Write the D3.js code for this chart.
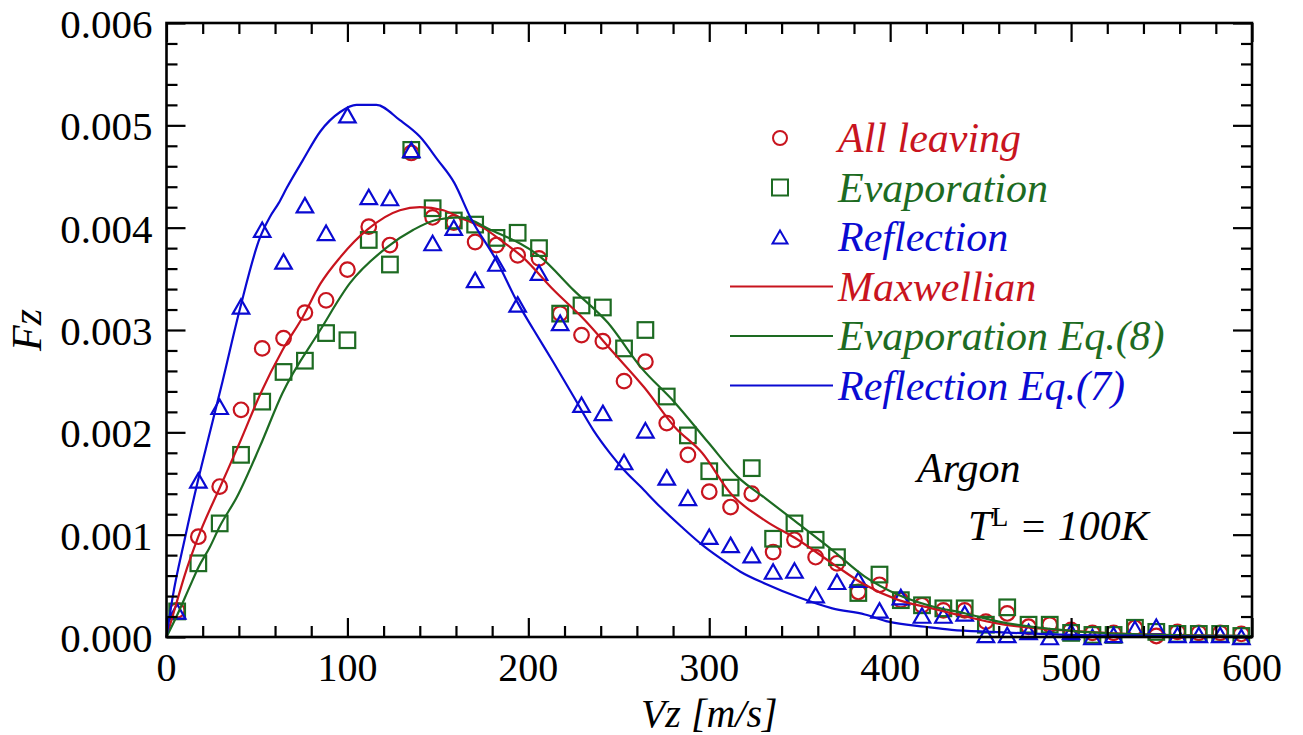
<!DOCTYPE html>
<html>
<head>
<meta charset="utf-8">
<script src="https://cdn.jsdelivr.net/npm/d3@7"></script>
</head>
<body style="margin:0">
<svg id="chart" width="1303" height="735"></svg>
<script>
// ---- Data -----------------------------------------------------------------
// sample velocities (bin centres) for the three marker series
var vz = [5.9, 17.6, 29.4, 41.2, 52.9, 64.7, 76.5, 88.2, 100, 111.8, 123.5, 135.3,
  147.1, 158.8, 170.6, 182.4, 194.1, 205.9, 217.6, 229.4, 241.2, 252.9, 264.7,
  276.5, 288.2, 300, 311.8, 323.5, 335.3, 347.1, 358.8, 370.6, 382.4, 394.1,
  405.9, 417.6, 429.4, 441.2, 452.9, 464.7, 476.5, 488.2, 500, 511.8, 523.5,
  535.3, 547.1, 558.8, 570.6, 582.4, 594.1];

var allLeaving = [0.00026, 0.00098, 0.00147, 0.00222, 0.00282, 0.00292, 0.00317,
  0.00329, 0.00359, 0.00401, 0.00383, 0.00473, 0.0041, 0.00405, 0.00386, 0.00383,
  0.00373, 0.0037, 0.00316, 0.00295, 0.00289, 0.0025, 0.00269, 0.00209, 0.00178,
  0.00142, 0.00127, 0.0014, 0.00083, 0.00095, 0.00078, 0.00072, 0.00044, 0.00051,
  0.00036, 0.00031, 0.00026, 0.00026, 0.00015, 0.00023, 0.0001, 0.00012, 0.00007,
  0.00004, 0.00004, 0.00009, 0.00001, 0.00005, 0.00004, 0.00004, 0.00003];

var evaporation = [0.00025, 0.00072, 0.00111, 0.00178, 0.0023, 0.00259, 0.0027,
  0.00297, 0.0029, 0.00388, 0.00364, 0.00476, 0.00419, 0.00407, 0.00403, 0.0039,
  0.00395, 0.0038, 0.00316, 0.00324, 0.00322, 0.00282, 0.003, 0.00235, 0.00197,
  0.00162, 0.00146, 0.00165, 0.00096, 0.00111, 0.00095, 0.00078, 0.00043, 0.00061,
  0.00036, 0.00031, 0.00028, 0.00028, 0.00012, 0.00029, 0.00012, 0.00012, 0.00004,
  0.00002, 0.00002, 0.00009, 0.00005, 0.00003, 0.00003, 0.00003, 0.00001];

var reflection = [0.00025, 0.00153, 0.00225, 0.00323, 0.00398, 0.00367, 0.00422,
  0.00395, 0.0051, 0.0043, 0.00429, 0.00476, 0.00385, 0.004, 0.00349, 0.00365,
  0.00325, 0.00356, 0.00307, 0.00227, 0.00219, 0.00171, 0.00202, 0.00156, 0.00136,
  0.00098, 0.0009, 0.0008, 0.00064, 0.00065, 0.00041, 0.00054, 0.00056, 0.00026,
  0.00039, 0.00021, 0.00021, 0.00023, 0.00002, 0.00002, 0.00005, 0, 0.00005, 0,
  0.00002, 0.00008, 0.0001, 0.00002, 0.00002, 0.00002, 0];

// curves: [vz, Fz] pairs
var maxwellian = [[0, 0], [5, 0.0003], [10, 0.0006], [17.6, 0.00098], [30, 0.00148],
  [40.5, 0.0019], [52, 0.00238], [64, 0.0028], [75.4, 0.00313], [85, 0.00345],
  [96, 0.00371], [111, 0.00398], [129, 0.00417], [140, 0.0042], [153, 0.00417],
  [162, 0.0041], [175, 0.004], [186, 0.00386], [197, 0.00371], [214, 0.00339],
  [231, 0.0031], [247, 0.00278], [264, 0.00244], [281, 0.00205], [296, 0.0018],
  [312, 0.0014], [330.7, 0.00114], [349, 0.00095], [368, 0.00072], [386, 0.00051],
  [404.7, 0.00036], [423, 0.00028], [441.7, 0.0002], [460, 0.00013], [500, 0.00006],
  [550, 0.00002], [600, 0.00001]];

var evaporationEq8 = [[0, 0], [5, 0.00018], [12.8, 0.00049], [17.6, 0.00068],
  [24, 0.00088], [29.4, 0.00108], [39, 0.00137], [51.6, 0.00186], [64, 0.00238],
  [85, 0.003], [101.5, 0.00346], [122, 0.00381], [136.5, 0.00398], [150, 0.00408],
  [162.5, 0.0041], [179, 0.00398], [207, 0.00371], [225, 0.00339], [244, 0.00307],
  [262, 0.00264], [281, 0.00229], [299.5, 0.0019], [316, 0.00156], [330.7, 0.00136],
  [349, 0.00111], [368, 0.00085], [386, 0.00059], [404.7, 0.00041], [423, 0.0003],
  [441.7, 0.00023], [460, 0.00015], [500, 0.00006], [550, 0.00002], [600, 0.00001]];

var reflectionEq7 = [[0, 0], [3.5, 0.0004], [10, 0.00095], [17.4, 0.00153], [24, 0.002],
  [31, 0.0025], [40.5, 0.0032], [51.6, 0.0039], [57, 0.0041], [62, 0.00424],
  [66.5, 0.00439], [75.4, 0.00466], [85, 0.00494], [96, 0.00513], [105, 0.0052],
  [116, 0.0052], [129, 0.00505], [140, 0.00489], [150, 0.00466], [159, 0.00444],
  [168, 0.0041], [183, 0.00366], [194, 0.00327], [203, 0.003], [214, 0.00268],
  [225, 0.00235], [236, 0.00202], [245, 0.0018], [253, 0.00163], [262, 0.00147],
  [273, 0.00127], [284.5, 0.00108], [297.5, 0.00088], [308.5, 0.00074], [317, 0.00064],
  [331, 0.00052], [349, 0.00039], [368, 0.00028], [386, 0.00022], [399, 0.00015],
  [419.5, 0.0001], [434, 0.00007], [456.5, 0.00005], [500, 0.00002], [550, 0.00001],
  [600, 0]];

var xTicks = [0, 100, 200, 300, 400, 500, 600];
var yTicks = [0, 0.001, 0.002, 0.003, 0.004, 0.005, 0.006];

var RED = '#c8141e', GREEN = '#1d6b22', BLUE = '#0a0ad2';

// ---- Layout ---------------------------------------------------------------
var L = 166.5, R = 1252, T = 23, B = 637;
var svg = d3.select('#chart');
var x = d3.scaleLinear().domain([0, 600]).range([L, R]);
var y = d3.scaleLinear().domain([0, 0.006]).range([B, T]);

var xMinor = d3.range(0, 601, 20).filter(function(d) { return d % 100 !== 0; });
var yMinor = d3.range(0, 31).map(function(i) { return i * 0.0002; })
  .filter(function(d, i) { return i % 5 !== 0; });

function addText(parent, px, italic) {
  var t = parent.append('text')
    .style('font-family', '"Times New Roman"')
    .style('font-size', px + 'px');
  if (italic) t.style('font-style', 'italic');
  return t;
}

// ---- Curves ---------------------------------------------------------------
var line = d3.line()
  .x(function(d) { return x(d[0]); })
  .y(function(d) { return y(d[1]); })
  .curve(d3.curveMonotoneX);

// ---- Markers --------------------------------------------------------------
var gm = svg.append('g').attr('fill', 'none').attr('stroke-width', 2.2);
function circles(g, vals, col) {
  g.selectAll(null).data(vals).enter().append('circle')
    .attr('cx', function(d, i) { return x(vz[i]); })
    .attr('cy', function(d) { return y(d); })
    .attr('r', 7.3).attr('stroke', col);
}
function squares(g, vals, col) {
  g.selectAll(null).data(vals).enter().append('rect')
    .attr('x', function(d, i) { return x(vz[i]) - 7.8; })
    .attr('y', function(d) { return y(d) - 7.8; })
    .attr('width', 15.6).attr('height', 15.6).attr('stroke', col);
}
function triPath(cx, cy, w, h) {
  return 'M' + cx + ',' + (cy - h / 2) + 'L' + (cx + w / 2) + ',' + (cy + h / 2) +
    'L' + (cx - w / 2) + ',' + (cy + h / 2) + 'Z';
}
function triangles(g, vals, col) {
  g.selectAll(null).data(vals).enter().append('path')
    .attr('d', function(d, i) { return triPath(x(vz[i]), y(d), 16.5, 14.5); })
    .attr('stroke', col);
}
circles(gm, allLeaving, RED);
squares(gm, evaporation, GREEN);
triangles(gm, reflection, BLUE);

var gl = svg.append('g').attr('fill', 'none').attr('stroke-width', 2.2);
gl.append('path').datum(maxwellian).attr('d', line).attr('stroke', RED);
gl.append('path').datum(evaporationEq8).attr('d', line).attr('stroke', GREEN);
gl.append('path').datum(reflectionEq7).attr('d', line).attr('stroke', BLUE);

// ---- Axes: tick lines from d3.axis (no labels), labels added by hand --------
function tickOnly(g) {
  g.select('.domain').remove();
  g.selectAll('text').remove();
  g.selectAll('line').attr('stroke', '#000').attr('stroke-width', 2.2);
}
[[d3.axisBottom, B, xTicks, 19], [d3.axisBottom, B, xMinor, 11],
 [d3.axisTop, T, xTicks, 19], [d3.axisTop, T, xMinor, 11]].forEach(function(a) {
  svg.append('g').attr('transform', 'translate(0,' + a[1] + ')')
    .call(a[0](x).tickValues(a[2]).tickSize(-a[3])).call(tickOnly);
});
[[d3.axisLeft, L, yTicks, 19], [d3.axisLeft, L, yMinor, 11],
 [d3.axisRight, R, yTicks, 19], [d3.axisRight, R, yMinor, 11]].forEach(function(a) {
  svg.append('g').attr('transform', 'translate(' + a[1] + ',0)')
    .call(a[0](y).tickValues(a[2]).tickSize(-a[3])).call(tickOnly);
});

var fmtY = d3.format('.3f');
xTicks.forEach(function(d) {
  addText(svg, 40, false).attr('x', x(d)).attr('y', B + 44)
    .attr('text-anchor', 'middle').text(d);
});
yTicks.forEach(function(d) {
  addText(svg, 41, false).attr('x', L - 14).attr('y', y(d) + 15)
    .attr('text-anchor', 'end').text(fmtY(d));
});

svg.append('rect')
  .attr('x', L).attr('y', T).attr('width', R - L).attr('height', B - T)
  .attr('fill', 'none').attr('stroke', '#000').attr('stroke-width', 2.6);

// axis titles
addText(svg, 40, true)
  .attr('x', (L + R) / 2).attr('y', 727)
  .attr('text-anchor', 'middle')
  .text('Vz [m/s]');
addText(svg, 42, true)
  .attr('transform', 'translate(41,330) rotate(-90)')
  .attr('text-anchor', 'middle')
  .text('Fz');

// ---- Legend ---------------------------------------------------------------
var legendRows = [
  { label: 'All leaving', color: RED, kind: 'circle' },
  { label: 'Evaporation', color: GREEN, kind: 'square' },
  { label: 'Reflection', color: BLUE, kind: 'triangle' },
  { label: 'Maxwellian', color: RED, kind: 'line' },
  { label: 'Evaporation Eq.(8)', color: GREEN, kind: 'line' },
  { label: 'Reflection Eq.(7)', color: BLUE, kind: 'line' }
];
var legY0 = 138, legDY = 49.5;
var gLeg = svg.append('g');
legendRows.forEach(function(r, i) {
  var cy = legY0 + i * legDY;
  if (r.kind === 'circle') {
    gLeg.append('circle').attr('cx', 780).attr('cy', cy).attr('r', 7)
      .attr('fill', 'none').attr('stroke', r.color).attr('stroke-width', 2);
  } else if (r.kind === 'square') {
    gLeg.append('rect').attr('x', 772).attr('y', cy - 8).attr('width', 16).attr('height', 16)
      .attr('fill', 'none').attr('stroke', r.color).attr('stroke-width', 2);
  } else if (r.kind === 'triangle') {
    gLeg.append('path').attr('d', triPath(780, cy, 15, 13))
      .attr('fill', 'none').attr('stroke', r.color).attr('stroke-width', 2);
  } else {
    gLeg.append('line').attr('x1', 730).attr('x2', 833).attr('y1', cy).attr('y2', cy)
      .attr('stroke', r.color).attr('stroke-width', 2.2);
  }
  addText(gLeg, 42, true).attr('x', 838).attr('y', cy + 14)
    .attr('fill', r.color)
    .text(r.label);
});

// ---- Annotation -----------------------------------------------------------
addText(svg, 42, true).attr('x', 917).attr('y', 482).text('Argon');
var tl = addText(svg, 42, true).attr('x', 968).attr('y', 540);
tl.append('tspan').text('T');
tl.append('tspan').attr('dy', -14).style('font-size', '28px').style('font-style', 'normal').text('L');
tl.append('tspan').attr('dy', 14).text(' = 100K');
</script>
</body>
</html>
